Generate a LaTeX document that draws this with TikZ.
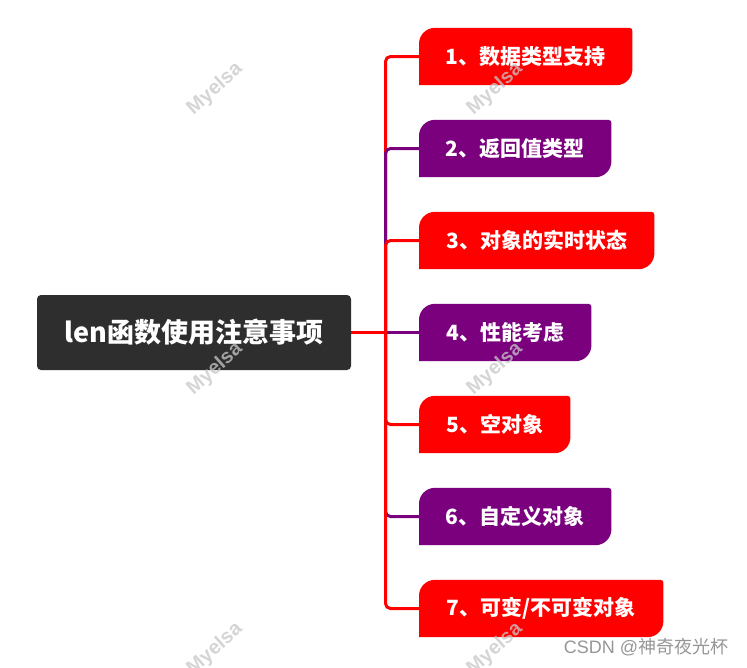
\documentclass[tikz,border=0pt]{standalone}
\usepackage{fontspec}
\newfontfamily\cjk{Noto Sans CJK SC}
\newfontfamily\wmfont{Liberation Sans}
\pgfdeclarelayer{bg}
\pgfdeclarelayer{fg}
\pgfsetlayers{bg,main,fg}
\definecolor{myred}{RGB}{255,0,0}
\definecolor{mypurple}{RGB}{122,0,126}
\definecolor{rootbg}{RGB}{46,46,46}
\definecolor{wmgray}{RGB}{200,200,200}
\definecolor{sigray}{RGB}{150,150,150}
\tikzset{
  rootnode/.style={fill=rootbg, rounded corners=4pt, minimum width=314pt, minimum height=75pt,
    inner sep=0pt, text=white, font=\cjk\bfseries\fontsize{27}{27}\selectfont},
  brnode/.style={minimum height=57pt, inner sep=0pt, anchor=west, text=white,
    font=\cjk\bfseries\fontsize{21}{21}\selectfont},
  conn/.style={line width=3pt, line cap=rect},
  wm/.style={font=\wmfont\bfseries\fontsize{20}{20}\selectfont, text=wmgray, text opacity=0.75, rotate=42},
}
\newcommand\brshape[2]{%
  \fill[#2] (#1.south west) -- ([yshift=-16pt]#1.north west)
    arc[start angle=180,end angle=90,radius=16pt]
    -- ([xshift=-3pt]#1.north east) arc[start angle=90,end angle=0,radius=3pt]
    -- ([yshift=16pt]#1.south east) arc[start angle=0,end angle=-90,radius=16pt] -- cycle;}
\begin{document}
\begin{tikzpicture}
\useasboundingbox (0,0) rectangle (747pt,-667pt);
\node[rootnode] (root) at (194pt,-332.5pt) {len函数使用注意事项};
\coordinate (tr) at (385.5pt,-332.5pt);
\node[brnode, minimum width=213pt] (n1) at (419pt,-56.5pt) {1、数据类型支持};
\node[brnode, minimum width=192pt] (n2) at (419pt,-148.5pt) {2、返回值类型};
\node[brnode, minimum width=235pt] (n3) at (419pt,-240.5pt) {3、对象的实时状态};
\node[brnode, minimum width=172pt] (n4) at (419pt,-332.5pt) {4、性能考虑};
\node[brnode, minimum width=151pt] (n5) at (419pt,-424.5pt) {5、空对象};
\node[brnode, minimum width=192pt] (n6) at (419pt,-516.5pt) {6、自定义对象};
\node[brnode, minimum width=244pt] (n7) at (419pt,-608.5pt) {7、可变/不可变对象};
\begin{pgfonlayer}{bg}
  \fill[white] (0,0) rectangle (747pt,-667pt);
  \foreach \n/\c in {n1/myred,n2/mypurple,n3/myred} {
    \draw[conn, \c] (root.east) -- (tr);
    \draw[conn, \c, rounded corners=5pt] (tr) |- (\n.west);
  }
  \draw[conn, mypurple] (root.east) -- (n4.west);
  \foreach \n/\c in {n5/myred,n6/mypurple,n7/myred} {
    \draw[conn, \c] (root.east) -- (tr);
    \draw[conn, \c, rounded corners=5pt] (tr) |- (\n.west);
  }
  \brshape{n1}{myred}
  \brshape{n2}{mypurple}
  \brshape{n3}{myred}
  \brshape{n4}{mypurple}
  \brshape{n5}{myred}
  \brshape{n6}{mypurple}
  \brshape{n7}{myred}
\end{pgfonlayer}
\begin{pgfonlayer}{fg}
  \begin{scope}
  \clip (0,0) rectangle (747pt,-667pt);
  \node[wm] (w1) at (215pt,-89pt) {Myelsa};
  \node[wm] (w2) at (495pt,-89pt) {Myelsa};
  \node[wm] (w3) at (215pt,-369pt) {Myelsa};
  \node[wm] (w4) at (495pt,-369pt) {Myelsa};
  \node[wm] (w5) at (215pt,-649pt) {Myelsa};
  \node[wm] (w6) at (495pt,-649pt) {Myelsa};
  \end{scope}
  \node[font=\cjk\fontsize{18}{18}\selectfont, text=sigray] (sig) at (646pt,-647pt) {{\wmfont CSDN @}神奇夜光杯};
\end{pgfonlayer}
\end{tikzpicture}
\end{document}
